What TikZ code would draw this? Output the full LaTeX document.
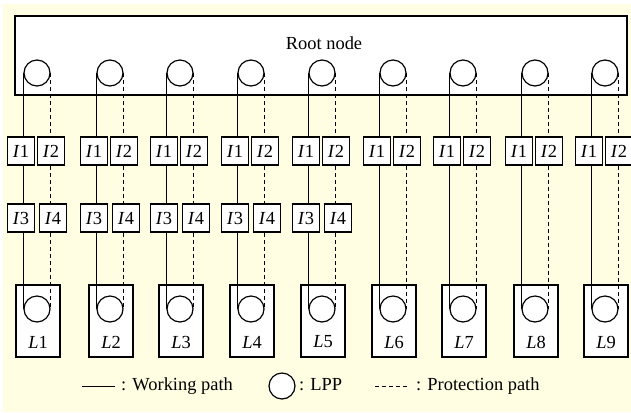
\documentclass[tikz,border=0pt]{standalone}
\usepackage{fontspec}
\setmainfont{Liberation Serif}
\definecolor{paper}{RGB}{255,254,226}
\begin{document}
\begin{tikzpicture}[x=1bp,y=-1bp,
  every node/.style={font=\fontsize{18.5}{21}\selectfont},
  ibox/.style={draw, line width=1.5bp, fill=white, minimum width=27bp, minimum height=28bp, inner sep=0pt},
  lbox/.style={draw, line width=1.2bp, fill=white, minimum width=44bp, minimum height=72bp, inner sep=0pt},
  lpp/.style={draw, circle, line width=1.2bp, fill=white, minimum size=26bp, inner sep=0pt},
  work/.style={line width=1.1bp},
  prot/.style={line width=1.1bp, dash pattern=on 4bp off 3bp}]
\useasboundingbox (0,0) rectangle (631,412);
\fill[paper] (3,4) rectangle (631,412);
% root node
\node[draw, line width=1.7bp, fill=white, minimum width=612bp, minimum height=79bp, inner sep=0pt] (root) at (321,55.5) {};
\node (rootlabel) at (324,43) {Root node};
% leaves with their working and protection paths
\foreach \k/\cx in {1/37,2/110,3/180,4/251,5/322,6/393,7/463,8/535,9/605} {
  \node[lpp] (r\k) at (\cx,73) {};
  \node[ibox] (a\k) at (\cx-16,151) {\textit{I}1};
  \node[ibox] (b\k) at (\cx+14,151) {\textit{I}2};
  \node[lbox] (leaf\k) at (\cx+1,321) {};
  \node[lpp] (c\k) at (\cx,309) {};
  \node (lab\k) at (\cx+1,342) {\textit{L}\k};
  \draw[work] (r\k.west) -- (r\k.west |- a\k.north);
  \draw[prot] (r\k.east) -- (r\k.east |- b\k.north);
  \ifnum\k<6
    \node[ibox] (d\k) at (\cx-16,218) {\textit{I}3};
    \node[ibox] (e\k) at (\cx+16,218) {\textit{I}4};
    \draw[work] (r\k.west |- a\k.south) -- (r\k.west |- d\k.north);
    \draw[work] (r\k.west |- d\k.south) -- (c\k.west);
    \draw[prot] (r\k.east |- b\k.south) -- (r\k.east |- e\k.north);
    \draw[prot] (r\k.east |- e\k.south) -- (c\k.east);
  \else
    \draw[work] (r\k.west |- a\k.south) -- (c\k.west);
    \draw[prot] (r\k.east |- b\k.south) -- (c\k.east);
  \fi
}
% legend
\coordinate (w0) at (82,386.5);
\coordinate (w1) at (115,386.5);
\draw[work] (w0) -- (w1);
\node[anchor=west, inner sep=0pt] (wtext) at (121,386) {: Working path};
\node[lpp] (key) at (282,386) {};
\node[anchor=west, inner sep=0pt] (ltext) at (299,385) {: LPP};
\coordinate (p0) at (375,386.5);
\coordinate (p1) at (408,386.5);
\draw[prot] (p0) -- (p1);
\node[anchor=west, inner sep=0pt] (ptext) at (416,386) {: Protection path};
\end{tikzpicture}
\end{document}
